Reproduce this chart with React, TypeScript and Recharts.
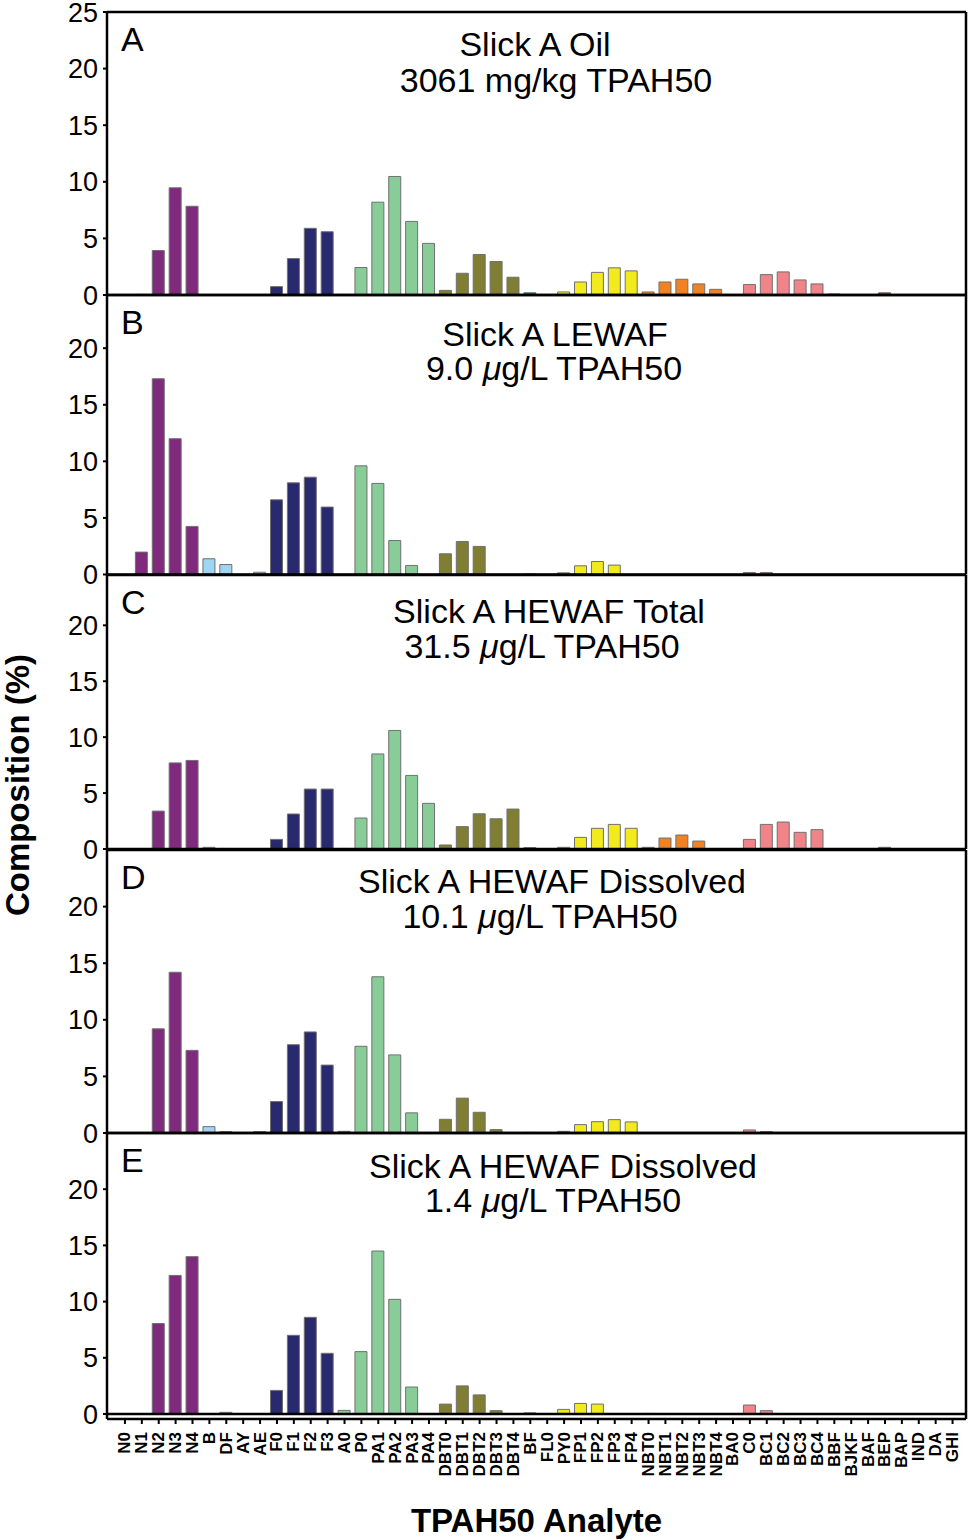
import React from 'react';
import { BarChart, Bar, XAxis, YAxis, Cell, ReferenceLine, Label } from 'recharts';

const FONT = '"Liberation Sans", Arial, Helvetica, sans-serif';

// TPAH50 analytes, left to right
const analytes = [
  'N0', 'N1', 'N2', 'N3', 'N4', 'B', 'DF', 'AY', 'AE', 'F0',
  'F1', 'F2', 'F3', 'A0', 'P0', 'PA1', 'PA2', 'PA3', 'PA4', 'DBT0',
  'DBT1', 'DBT2', 'DBT3', 'DBT4', 'BF', 'FL0', 'PY0', 'FP1', 'FP2', 'FP3',
  'FP4', 'NBT0', 'NBT1', 'NBT2', 'NBT3', 'NBT4', 'BA0', 'C0', 'BC1', 'BC2',
  'BC3', 'BC4', 'BBF', 'BJKF', 'BAF', 'BEP', 'BAP', 'IND', 'DA', 'GHI',
];

// composition (%) per panel
const slickOil = [
  0, 0.05, 3.93, 9.47, 7.84, 0, 0, 0, 0, 0.74,
  3.22, 5.89, 5.59, 0.05, 2.43, 8.2, 10.47, 6.5, 4.56, 0.41,
  1.92, 3.58, 2.96, 1.57, 0.2, 0.02, 0.27, 1.15, 2.0, 2.4,
  2.13, 0.27, 1.15, 1.39, 0.98, 0.5, 0.02, 0.92, 1.8, 2.04,
  1.33, 0.98, 0.09, 0, 0, 0.2, 0, 0, 0, 0,
];
const lewaf = [
  0, 1.98, 17.3, 12.0, 4.25, 1.39, 0.88, 0, 0.2, 6.6,
  8.1, 8.6, 5.96, 0, 9.6, 8.05, 3.0, 0.8, 0, 1.83,
  2.92, 2.48, 0, 0, 0.05, 0, 0.15, 0.77, 1.15, 0.83,
  0, 0, 0, 0, 0, 0, 0, 0.18, 0.18, 0,
  0, 0, 0, 0, 0, 0, 0, 0, 0, 0,
];
const hewafTotal = [
  0, 0, 3.39, 7.7, 7.92, 0.15, 0.05, 0, 0, 0.86,
  3.13, 5.36, 5.36, 0.05, 2.77, 8.5, 10.6, 6.58, 4.08, 0.36,
  2.0, 3.15, 2.7, 3.57, 0.12, 0, 0.15, 1.04, 1.85, 2.2,
  1.85, 0.15, 0.98, 1.25, 0.71, 0, 0.02, 0.86, 2.2, 2.41,
  1.49, 1.73, 0.02, 0, 0, 0.15, 0, 0, 0, 0,
];
const hewafDissolved10 = [
  0, 0, 9.2, 14.2, 7.3, 0.56, 0.12, 0, 0.12, 2.78,
  7.8, 8.93, 6.0, 0.15, 7.66, 13.8, 6.9, 1.78, 0, 1.21,
  3.08, 1.83, 0.3, 0, 0.05, 0, 0.15, 0.74, 1.0, 1.18,
  0.98, 0, 0, 0, 0, 0, 0.03, 0.27, 0.12, 0,
  0, 0, 0, 0, 0, 0, 0, 0, 0, 0,
];
const hewafDissolved14 = [
  0, 0, 8.05, 12.33, 14.0, 0, 0.15, 0, 0, 2.1,
  7.0, 8.6, 5.4, 0.32, 5.55, 14.5, 10.2, 2.4, 0, 0.88,
  2.5, 1.7, 0.3, 0, 0.1, 0, 0.41, 0.94, 0.88, 0,
  0, 0.05, 0, 0, 0, 0, 0, 0.8, 0.3, 0,
  0, 0, 0, 0, 0, 0, 0, 0, 0, 0,
];

const panelValues = [slickOil, lewaf, hewafTotal, hewafDissolved10, hewafDissolved14];
const panelLetters = ['A', 'B', 'C', 'D', 'E'];
const panelTitles = [
  'Slick A Oil',
  'Slick A LEWAF',
  'Slick A HEWAF Total',
  'Slick A HEWAF Dissolved',
  'Slick A HEWAF Dissolved',
];
const amounts = ['3061', '9.0', '31.5', '10.1', '1.4'];
const units = ['mg/kg', 'μg/L', 'μg/L', 'μg/L', 'μg/L'];
const yTicksTop = [0, 5, 10, 15, 20, 25];
const yTicks = [0, 5, 10, 15, 20];

// layout: page y of plot top, page y of zero line, axis max
const layout = [
  { top: 12, zero: 295, max: 25 },
  { top: 295, zero: 574.5, max: 24.7 },
  { top: 575, zero: 849, max: 24.5 },
  { top: 850, zero: 1133, max: 25 },
  { top: 1133, zero: 1414, max: 25 },
];
const titlePos = [
  [{ x: 535, y: 44 }, { x: 556, y: 80 }],
  [{ x: 555, y: 334 }, { x: 554, y: 368 }],
  [{ x: 549, y: 611 }, { x: 542, y: 646 }],
  [{ x: 552, y: 881 }, { x: 540, y: 916 }],
  [{ x: 563, y: 1166 }, { x: 553, y: 1200 }],
];
const PAD = 20; // room above each plot for the top tick label

const colorFor = (name: string) => {
  if (name.startsWith('NBT')) return '#F08223';
  if (/^N\d/.test(name)) return '#7F2A7D';
  if (['B', 'DF', 'AY', 'AE'].includes(name)) return '#9FD4F2';
  if (/^F\d/.test(name)) return '#29296F';
  if (name === 'A0' || name === 'P0' || name.startsWith('PA')) return '#88CD98';
  if (name.startsWith('DBT')) return '#7F7E33';
  if (name === 'BF') return '#1D7F89';
  if (name === 'FL0' || name === 'PY0' || name.startsWith('FP')) return '#F2EA1C';
  if (name === 'BA0' || name === 'C0' || name.startsWith('BC')) return '#F08489';
  return '#B6473A';
};

const XTick = ({ x, y, payload }: any) => (
  <text
    x={x}
    y={y}
    transform={`rotate(-90 ${x} ${y})`}
    textAnchor="end"
    dominantBaseline="central"
    fontFamily={FONT}
    fontWeight="bold"
    fontSize={17}
    fill="#000"
  >
    {payload.value}
  </text>
);

const Panel = ({ idx }: { idx: number }) => {
  const { top, zero, max } = layout[idx];
  const last = idx === layout.length - 1;
  const values = panelValues[idx];
  const data = analytes.map((name, i) => ({ name, value: values[i] }));
  const plotBottom = last ? zero + 5 : zero;
  const axisH = last ? 1540 - plotBottom : 22;
  const minVal = last ? -(5 / ((zero - top) / max)) : 0;
  const height = PAD + (plotBottom - top) + axisH;

  return (
    <div style={{ position: 'absolute', left: 0, top: top - PAD }}>
      <BarChart
        width={971}
        height={height}
        data={data}
        margin={{ top: PAD - 1, right: 4, bottom: 0, left: 0 }}
        barSize={12}
      >
        <XAxis
          xAxisId="top"
          orientation="top"
          dataKey="name"
          height={1}
          tick={false}
          tickLine={false}
          axisLine={{ stroke: '#000', strokeWidth: 2.5 }}
          padding={{ left: 9.5, right: 5 }}
        />
        <XAxis
          dataKey="name"
          interval={0}
          height={axisH}
          tickSize={5}
          tickMargin={8}
          tick={last ? <XTick /> : false}
          tickLine={{ stroke: '#000', strokeWidth: 2 }}
          axisLine={{ stroke: '#000', strokeWidth: 2.5 }}
          padding={{ left: 9.5, right: 5 }}
        >
          {last && (
            <Label
              value="TPAH50 Analyte"
              position="insideBottom"
              offset={8}
              style={{ fontFamily: FONT, fontWeight: 'bold', fontSize: 33, fill: '#000' }}
            />
          )}
        </XAxis>
        <YAxis
          width={107}
          domain={[minVal, max]}
          allowDataOverflow
          ticks={idx === 0 ? yTicksTop : yTicks}
          interval={0}
          tickSize={4}
          tickMargin={5}
          tick={{ fontFamily: FONT, fontSize: 27, fill: '#000' }}
          tickLine={{ stroke: '#000', strokeWidth: 2 }}
          axisLine={{ stroke: '#000', strokeWidth: 2.5 }}
        />
        <YAxis
          yAxisId="right"
          orientation="right"
          width={1}
          tick={false}
          tickLine={false}
          axisLine={{ stroke: '#000', strokeWidth: 2.5 }}
        />
        {last && <ReferenceLine y={0} stroke="#000" strokeWidth={2.5} />}
        <Bar dataKey="value" stroke="#707070" strokeWidth={1} isAnimationActive={false}>
          {data.map((d) => (
            <Cell key={d.name} fill={colorFor(d.name)} />
          ))}
        </Bar>
      </BarChart>
    </div>
  );
};

const unitText = (u: string) =>
  u.startsWith('μ') ? (
    <>
      <i>μ</i>
      {u.slice(1)}
    </>
  ) : (
    u
  );

const lineStyle = (p: { x: number; y: number }): React.CSSProperties => ({
  position: 'absolute',
  left: p.x,
  top: p.y,
  transform: 'translate(-50%, -50%)',
  fontSize: 34,
  lineHeight: 0.9,
  whiteSpace: 'nowrap',
});

export default function App() {
  return (
    <div
      style={{
        position: 'absolute',
        left: 0,
        top: 0,
        width: 971,
        height: 1540,
        overflow: 'hidden',
        background: '#fff',
        fontFamily: FONT,
        color: '#000',
      }}
    >
      {layout.map((_, i) => (
        <Panel key={i} idx={i} />
      ))}
      {panelLetters.map((letter, i) => (
        <div
          key={'l' + letter}
          style={{
            position: 'absolute',
            left: 121,
            top: layout[i].top + 27,
            transform: 'translateY(-50%)',
            fontSize: 34,
            lineHeight: 0.9,
          }}
        >
          {letter}
        </div>
      ))}
      {panelTitles.map((title, i) => (
        <React.Fragment key={'t' + i}>
          <div style={lineStyle(titlePos[i][0])}>{title}</div>
          <div style={lineStyle(titlePos[i][1])}>
            {amounts[i]} {unitText(units[i])} TPAH50
          </div>
        </React.Fragment>
      ))}
      <div
        style={{
          position: 'absolute',
          left: 17,
          top: 785,
          transform: 'translate(-50%, -50%) rotate(-90deg)',
          fontSize: 33,
          fontWeight: 'bold',
          lineHeight: 1,
          whiteSpace: 'nowrap',
        }}
      >
        Composition (%)
      </div>
    </div>
  );
}
